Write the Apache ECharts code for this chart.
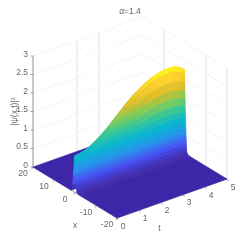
<!DOCTYPE html>
<html><head><meta charset="utf-8">
<style>html,body{margin:0;padding:0;background:#fff}#c{width:251px;height:245px;filter:blur(0.45px)}</style>
<script src="https://cdn.jsdelivr.net/npm/echarts@6/dist/echarts.min.js"></script>
</head><body><div id="c"></div>
<script>
// ---- data ----
const title = 'α=1.4';
const zLabel = '|ψ(x,t)|²';
const xLabel = 'x', tLabel = 't';
const xTicks = [20, 10, 0, -10, -20];
const tTicks = [0, 1, 2, 3, 4, 5];
const zTicks = [0, 0.5, 1, 1.5, 2, 2.5, 3];
const xWallGrid = [10, -10, -20];
const tWallGrid = [2, 3];
// t samples and ridge height along the crest
const tNodes = [0,0.25,0.5,0.75,1,1.25,1.5,1.75,2,2.25,2.5,2.75,3,3.25,3.5,3.75,4,4.25,4.5,4.75,5];
const crest  = [0.98,1.0,1.04,1.12,1.21,1.32,1.44,1.58,1.72,1.86,1.99,2.1,2.2,2.29,2.36,2.41,2.44,2.45,2.44,2.38,2.27];
// x samples (far to near) and the cross-section of the ridge
const xNodes  = [20,2,1.4,1.1,0.8,0.4,0.2,0.13,0.06,-0.01,-0.08,-0.15,-0.22,-0.29,-0.36,-0.43,-0.5,-0.57,-0.64,-0.71,-0.78,-0.85,-1.2,-1.8,-2.6,-20];
const section = [0,0,0.03,0.2,0.45,0.8,1,0.945,0.835,0.736,0.648,0.56,0.484,0.418,0.352,0.297,0.242,0.198,0.154,0.11,0.066,0.033,0.012,0.004,0,0];
const parula = [[62,38,168],[72,82,244],[39,150,235],[8,181,208],[49,198,159],[129,204,89],[220,189,41],[252,207,48],[249,251,21]];
const zMax = 2.45;

// ---- view of the 3-D box ----
const view = {ox:33, oy:167, xx:84, xy:51, tx:110, ty:-39, zy:-37};
function project(x,t,z){
  const f=(20-x)/40, g=t/5;
  return [view.ox+view.xx*f+view.tx*g, view.oy+view.xy*f+view.ty*g+view.zy*z];
}
function colour(z){
  const v=Math.max(0,Math.min(1,z/zMax))*(parula.length-1);
  const i=Math.min(parula.length-2,Math.floor(v)), k=v-i;
  const c=parula[i].map((a,n)=>Math.round(a+(parula[i+1][n]-a)*k));
  return 'rgb('+c.join(',')+')';
}
// ---- cells, far to near; strips that lie flat on the floor are one cell ----
const cells=[];
const lastT=tNodes.length-1;
for(let i=0;i<xNodes.length-1;i++){
  if(section[i]===0&&section[i+1]===0){cells.push([i,0,lastT]);continue;}
  for(let j=lastT-1;j>=0;j--) cells.push([i,j,j+1]);
}
function surfaceItem(p,api){
  const i=api.value(0), j=api.value(1), k=api.value(2);
  const zz=(a,b)=>crest[b]*section[a];
  const pt=(a,b)=>api.coord(project(xNodes[a],tNodes[b],zz(a,b)));
  const pts=[pt(i,j),pt(i+1,j),pt(i+1,k),pt(i,k)];
  const c0=(zz(i,j)+zz(i+1,j))/2, c1=(zz(i,k)+zz(i+1,k))/2;
  let fill;
  if(c0===c1) fill=colour(c0);
  else {
    const a=[(pts[0][0]+pts[1][0])/2,(pts[0][1]+pts[1][1])/2];
    const b=[(pts[2][0]+pts[3][0])/2,(pts[2][1]+pts[3][1])/2];
    fill=new echarts.graphic.LinearGradient(a[0],a[1],b[0],b[1],[{offset:0,color:colour(c0)},{offset:1,color:colour(c1)}],true);
  }
  return {type:'polygon',shape:{points:pts},style:{fill:fill,stroke:fill,lineWidth:0.6}};
}
// ---- box, grid lines, ticks ----
const GRID='#e4e4e4', VGRID='#ebebeb', AXIS='#777';
const lines=[];
zTicks.slice(1).forEach(z=>{
  lines.push({a:[20,0,z],b:[20,5,z],c:GRID,d:[2,2]});
  lines.push({a:[20,5,z],b:[-20,5,z],c:GRID,d:[2,2]});
});
tWallGrid.forEach(t=>lines.push({a:[20,t,0],b:[20,t,3],c:VGRID,w:1.4}));
xWallGrid.forEach(x=>lines.push({a:[x,5,0],b:[x,5,3],c:VGRID,w:1.4}));
lines.push({a:[20,0,0],b:[20,0,3],c:AXIS,w:0.8});
lines.push({a:[20,0,0],b:[-20,0,0],c:AXIS,w:0.7});
lines.push({a:[-20,0,0],b:[-20,5,0],c:AXIS,w:0.7});
function boxItem(p,api){
  const l=lines[api.value(0)];
  const A=api.coord(project(...l.a)),B=api.coord(project(...l.b));
  return {type:'line',shape:{x1:A[0],y1:A[1],x2:B[0],y2:B[1]},style:{stroke:l.c,lineWidth:l.w||0.8,lineDash:l.d||null}};
}
const ticks=[];
zTicks.forEach(z=>ticks.push({p:[20,0,z],d:[-2.5,0]}));
xTicks.forEach(x=>ticks.push({p:[x,0,0],d:[-1.2,2.2]}));
tTicks.forEach(t=>ticks.push({p:[-20,t,0],d:[1.4,2]}));
function tickItem(p,api){
  const k=ticks[api.value(0)];
  const A=api.coord(project(...k.p));
  return {type:'line',shape:{x1:A[0],y1:A[1],x2:A[0]+k.d[0],y2:A[1]+k.d[1]},style:{stroke:AXIS,lineWidth:0.7}};
}
// ---- text ----
const FONT='8.5px "Liberation Sans"', TEXT='#666';
const texts=[];
zTicks.forEach(z=>texts.push({p:[20,0,z],o:[-5,-1.5],s:String(z),al:'right'}));
xTicks.forEach(x=>texts.push({p:[x,0,0],o:[-10,7],s:String(x)}));
tTicks.forEach(t=>texts.push({p:[-20,t,0],o:[6,8.5],s:String(t)}));
texts.push({p:[0,0,0],o:[0,33],s:xLabel});
texts.push({p:[-20,2.5,0],o:[-12.5,30],s:tLabel});
texts.push({p:[20,0,1.5],o:[-18.5,0],s:zLabel,r:Math.PI/2});
texts.push({p:[20,5,3],o:[-13,-5],s:title});
function textItem(p,api){
  const k=texts[api.value(0)];
  const A=api.coord(project(...k.p));
  return {type:'text',x:A[0]+k.o[0],y:A[1]+k.o[1],rotation:k.r||0,
    style:{text:k.s,font:FONT,fill:TEXT,textAlign:k.al||'center',textVerticalAlign:'middle'}};
}
const idx=a=>a.map((_,i)=>[i]);
const chart=echarts.init(document.getElementById('c'),null,{renderer:'canvas',width:251,height:245});
chart.setOption({
  animation:false,
  grid:{left:0,right:0,top:0,bottom:0},
  xAxis:{type:'value',min:0,max:251,show:false},
  yAxis:{type:'value',min:0,max:245,inverse:true,show:false},
  series:[
    {type:'custom',silent:true,clip:false,z:1,coordinateSystem:'cartesian2d',data:idx(lines),renderItem:boxItem,encode:{x:0,y:0}},
    {type:'custom',silent:true,clip:false,z:2,coordinateSystem:'cartesian2d',data:idx(ticks),renderItem:tickItem,encode:{x:0,y:0}},
    {type:'custom',silent:true,clip:false,z:3,coordinateSystem:'cartesian2d',data:cells,renderItem:surfaceItem,encode:{x:0,y:1},progressive:0},
    {type:'custom',silent:true,clip:false,z:4,coordinateSystem:'cartesian2d',data:idx(texts),renderItem:textItem,encode:{x:0,y:0}}
  ]
});
</script></body></html>
